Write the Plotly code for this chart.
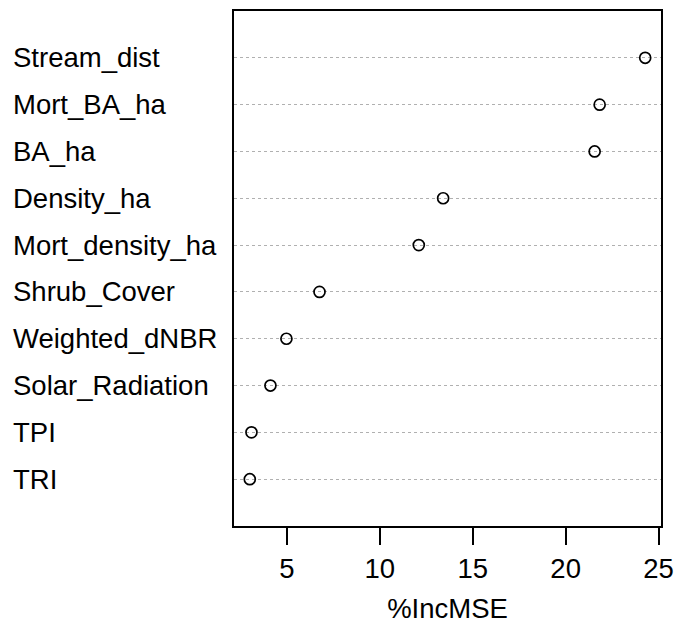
import plotly.graph_objects as go

variables = ["TRI", "TPI", "Solar_Radiation", "Weighted_dNBR", "Shrub_Cover",
             "Mort_density_ha", "Density_ha", "BA_ha", "Mort_BA_ha", "Stream_dist"]
inc_mse = [3.01, 3.10, 4.12, 4.98, 6.76, 12.10, 13.41, 21.56, 21.83, 24.28]
x_ticks = [5, 10, 15, 20, 25]
x_title = "%IncMSE"

positions = list(range(1, len(variables) + 1))

W, H = 678, 624
L, R, T, B = 234, 17, 11, 98
FONT = "Liberation Sans, Arial, sans-serif"
FS = 27.5

fig = go.Figure()
fig.add_trace(go.Scatter(
    x=inc_mse, y=positions, mode="markers",
    marker=dict(symbol="circle-open", size=11, color="black",
                line=dict(width=1.7, color="black")),
    showlegend=False, hoverinfo="x+y",
))

plot_w = W - L - R
for name, pos in zip(variables, positions):
    fig.add_annotation(
        text=name, x=(11 - L) / plot_w, xref="paper", y=pos, yref="y",
        xanchor="left", yanchor="middle", showarrow=False,
        font=dict(family=FONT, size=FS, color="black"),
    )

fig.update_layout(
    width=W, height=H,
    margin=dict(l=L, r=R, t=T, b=B, autoexpand=False),
    paper_bgcolor="white", plot_bgcolor="white",
    font=dict(family=FONT, size=FS, color="black"),
    xaxis=dict(
        range=[2.16, 25.13], tickvals=x_ticks, ticktext=[str(t) for t in x_ticks],
        ticks="outside", ticklen=17, tickwidth=1.5, tickcolor="black",
        showline=True, linecolor="black", linewidth=1.5, mirror=True,
        showgrid=False, zeroline=False, automargin=False,
        tickfont=dict(family=FONT, size=FS, color="black"),
        title=dict(text=x_title, font=dict(family=FONT, size=FS, color="black"), standoff=23),
    ),
    yaxis=dict(
        range=[0, 11], tickvals=positions, showticklabels=False, ticks="",
        showline=True, linecolor="black", linewidth=1.5, mirror=True,
        showgrid=True, gridcolor="#b0b0b0", gridwidth=1, griddash="3px,3px",
        zeroline=False, automargin=False,
    ),
)

fig.write_html(
    "out.html",
    config={"displayModeBar": False},
    post_script="document.body.style.margin='0';document.body.style.overflow='hidden';",
)
